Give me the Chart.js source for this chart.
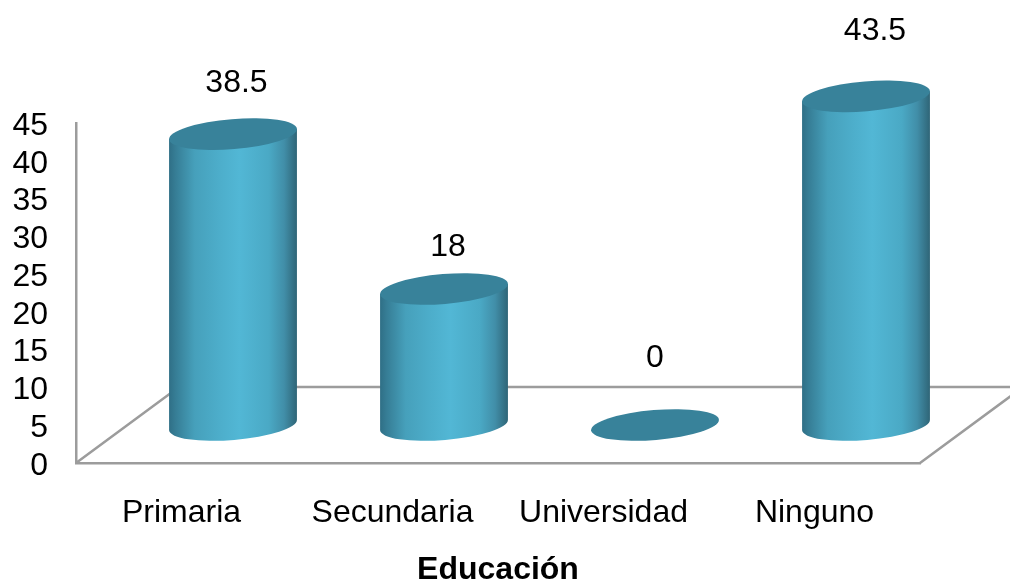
<!DOCTYPE html>
<html>
<head>
<meta charset="utf-8">
<style>html,body{margin:0;padding:0;background:#fff}canvas{display:block}</style>
<script src="https://cdn.jsdelivr.net/npm/chart.js@4"></script>
</head>
<body>
<canvas id="c" width="1010" height="580"></canvas>
<script>
const categories = ['Primaria', 'Secundaria', 'Universidad', 'Ninguno'];
const values = [38.5, 18, 0, 43.5];
const valueLabels = ['38.5', '18', '0', '43.5'];
const axisTitle = 'Educación';
const labelNudgeX = [3.5, 4, 0, 9];
const labelNudgeY = [-51, -42, -67, -65];

const FONT = '"Liberation Sans", Arial, sans-serif';
const FS = 32;
const GREY = '#9c9c9c';
const DX = 51.5, DY = -38;          // half of the floor depth
const TILT = -0.083, RB = 15;       // ellipse tilt and minor radius
const TIP = 5;

const stops = [[0,'#2f6f86'],[0.05,'#367d95'],[0.2,'#46a0bb'],[0.4,'#4daecb'],[0.55,'#52b7d5'],
               [0.78,'#4aa9c5'],[0.9,'#418ea8'],[1,'#2f6577']];

const cylinderPlugin = {
  id: 'cylinder',
  beforeDatasetsDraw(chart) {
    const {ctx, chartArea: a} = chart;
    ctx.save();
    ctx.strokeStyle = GREY; ctx.lineWidth = 2.5;
    ctx.beginPath();
    ctx.moveTo(a.left, a.bottom); ctx.lineTo(a.left + 2 * DX, a.bottom + 2 * DY);
    ctx.lineTo(a.right + 2 * DX, a.bottom + 2 * DY); ctx.lineTo(a.right, a.bottom);
    ctx.stroke();
    ctx.restore();
  },
  beforeDatasetDraw(chart, args) {
    const {ctx} = chart;
    const meta = chart.getDatasetMeta(args.index);
    ctx.save();
    ctx.translate(DX, DY);
    meta.data.forEach(el => {
      const half = el.width / 2, ra = half + 0.2;
      const xl = el.x - half, xr = el.x + half;
      if (el.base - el.y > 0.5) {
        const g = ctx.createLinearGradient(xl, 0, xr, 0);
        stops.forEach(s => g.addColorStop(s[0], s[1]));
        ctx.beginPath();
        ctx.moveTo(xl, el.y + TIP);
        ctx.lineTo(xr, el.y - TIP);
        ctx.lineTo(xr, el.base - TIP);
        ctx.ellipse(el.x, el.base, ra, RB, TILT, 0, Math.PI, false);
        ctx.lineTo(xl, el.y + TIP);
        ctx.closePath();
        ctx.fillStyle = g;
        ctx.fill();
      }
      ctx.beginPath();
      ctx.ellipse(el.x, el.y, ra, RB, TILT, 0, Math.PI * 2);
      ctx.fillStyle = '#38829a';
      ctx.fill();
    });
    ctx.restore();
    return false;
  },
  afterDatasetsDraw(chart) {
    const {ctx} = chart;
    const meta = chart.getDatasetMeta(0);
    ctx.save();
    ctx.font = FS + 'px ' + FONT;
    ctx.fillStyle = '#000';
    ctx.textAlign = 'center';
    ctx.textBaseline = 'middle';
    meta.data.forEach((el, i) => {
      ctx.fillText(valueLabels[i], el.x + DX + labelNudgeX[i], el.y + DY + labelNudgeY[i]);
    });
    ctx.restore();
  }
};

new Chart(document.getElementById('c'), {
  type: 'bar',
  data: {
    labels: categories,
    datasets: [{ data: values, backgroundColor: '#4daecb', barPercentage: 0.606, categoryPercentage: 1 }]
  },
  plugins: [cylinderPlugin],
  options: {
    responsive: false,
    animation: false,
    layout: { padding: { top: 123, right: 90, left: 0, bottom: 0 } },
    plugins: { legend: { display: false }, tooltip: { enabled: false } },
    scales: {
      x: {
        grid: { display: false, drawTicks: false },
        border: { color: GREY, width: 2.5 },
        ticks: { color: '#000', font: { family: FONT, size: FS }, padding: 31, maxRotation: 0, autoSkip: false },
        title: { display: true, text: axisTitle, color: '#000',
                 font: { family: FONT, size: FS, weight: 'bold', lineHeight: 1 },
                 padding: { top: 0, bottom: -6 } },
        afterFit(s) { s.height = 117; }
      },
      y: {
        min: 0, max: 45,
        grid: { display: false, drawTicks: false },
        border: { color: GREY, width: 2.5 },
        ticks: { stepSize: 5, autoSkip: false, labelOffset: 3, color: '#000', font: { family: FONT, size: FS }, padding: 28 },
        afterFit(s) { s.width = 76; }
      }
    }
  }
});
</script>
</body>
</html>
